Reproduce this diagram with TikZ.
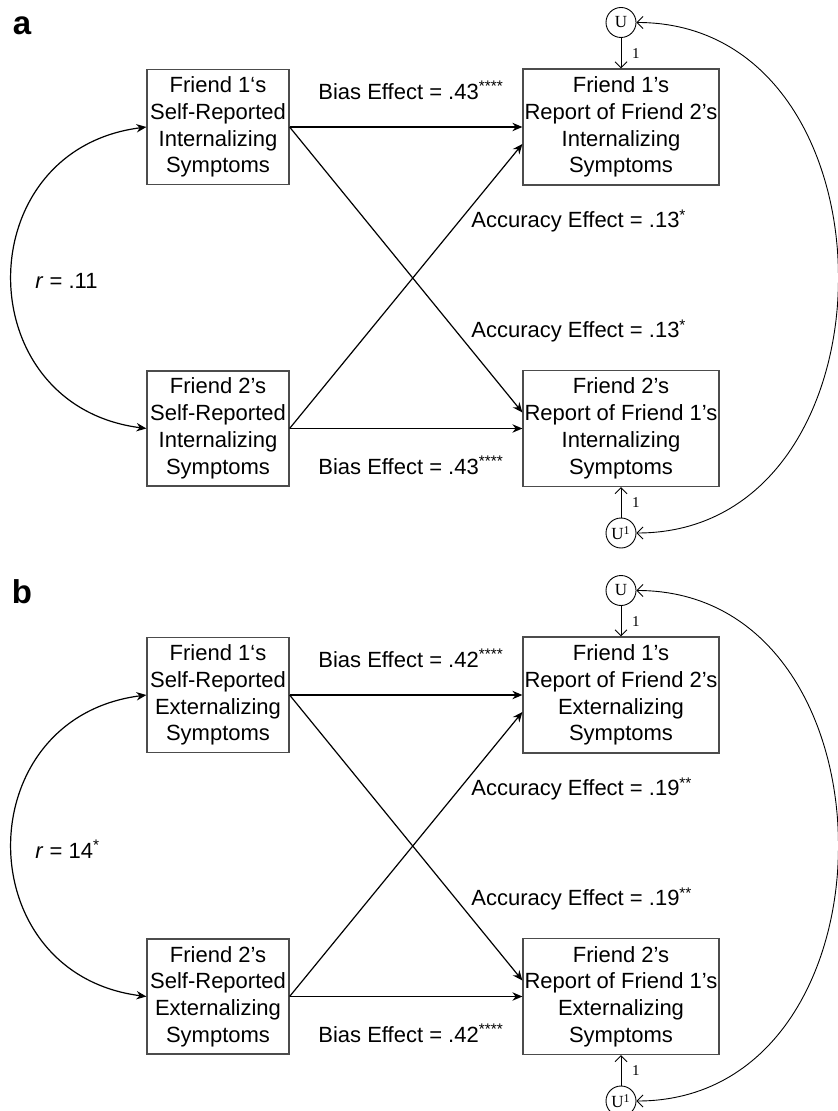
\documentclass[tikz,border=0pt]{standalone}
\usepackage{fontspec}
\setmainfont{Liberation Sans}
\newfontfamily\timesfont{Liberation Serif}
\usetikzlibrary{positioning, arrows.meta}

\tikzset{
  var/.style={draw=black!70, line width=0.6pt, inner sep=0.5pt, align=center,
    font=\fontsize{11}{13.4}\selectfont},
  selfvar/.style={var, minimum width=71pt, minimum height=57.5pt},
  reportvar/.style={var, minimum width=98pt, minimum height=58pt},
  err/.style={circle, draw, line width=0.45pt, inner sep=0pt, minimum size=15pt,
    font=\timesfont\fontsize{8.5}{9}\selectfont},
  coef/.style={anchor=west, inner sep=0pt, font=\fontsize{11}{13.4}\selectfont},
  effect/.style={-{Stealth[length=5pt,width=4.2pt,inset=1.6pt]}, line width=0.6pt},
  loading/.style={-{Straight Barb[length=3pt,width=6pt]}, line width=0.45pt},
  fixlab/.style={right=2pt, font=\timesfont\fontsize{7.5}{8}\selectfont},
  panel/.style={font=\bfseries\fontsize{16.5}{17}\selectfont}
}

\begin{document}
\begin{tikzpicture}[x=0.5pt,y=-0.5pt,on grid]
\useasboundingbox (0,0) rectangle (838,1111);

% panel a
\node[panel] (alab) at (22,26) {a};
\node[selfvar] (a1) at (218,127) {Friend 1‘s\\Self-Reported\\Internalizing\\Symptoms};
\node[reportvar] (a3) [right=201.5pt of a1] {Friend 1’s\\Report of Friend 2’s\\Internalizing\\Symptoms};
\node[selfvar] (a2) [below=150.75pt of a1] {Friend 2’s\\Self-Reported\\Internalizing\\Symptoms};
\node[reportvar] (a4) [right=201.5pt of a2] {Friend 2’s\\Report of Friend 1’s\\Internalizing\\Symptoms};
\node[err] (au) [above=52.25pt of a3] {U};
\node[err] (aul) [below=52.25pt of a4] {U\textsuperscript{1}};

\draw[effect] (a1.east) -- (a3.west);
\draw[effect] (a1.east) -- ([yshift=8pt]a4.west);
\draw[effect] (a2.east) -- ([yshift=-8.5pt]a3.west);
\draw[effect] (a2.east) -- (a4.west);
\draw[effect,{Stealth[length=5pt,width=4.2pt,inset=1.6pt]}-{Stealth[length=5pt,width=4.2pt,inset=1.6pt]}]
  (a1.west) .. controls +(-179,23) and +(-179,-23) .. (a2.west);
\draw[loading] (au) -- node[fixlab] {1} (a3);
\draw[loading] (aul) -- node[fixlab] {1} (a4);
\draw[loading,{Straight Barb[length=3pt,width=6pt]}-{Straight Barb[length=3pt,width=6pt]}]
  (au.east) .. controls +(269,0) and +(269,0) .. (aul.east);

\node[coef] (abias1) at (318,90) {Bias Effect = .43\textsuperscript{****}};
\node[coef] (abias2) at (318,465) {Bias Effect = .43\textsuperscript{****}};
\node[coef] (aacc1) at (471,221) {Accuracy Effect = .13\textsuperscript{*}};
\node[coef] (aacc2) at (471,331) {Accuracy Effect = .13\textsuperscript{*}};
\node[coef] (ar) at (35,281) {\textit{r} = .11};

% panel b
\node[panel] (blab) at (22,592) {b};
\node[selfvar] (b1) at (218,695) {Friend 1‘s\\Self-Reported\\Externalizing\\Symptoms};
\node[reportvar] (b3) [right=201.5pt of b1] {Friend 1’s\\Report of Friend 2’s\\Externalizing\\Symptoms};
\node[selfvar] (b2) [below=150.75pt of b1] {Friend 2’s\\Self-Reported\\Externalizing\\Symptoms};
\node[reportvar] (b4) [right=201.5pt of b2] {Friend 2’s\\Report of Friend 1’s\\Externalizing\\Symptoms};
\node[err] (bu) [above=52.25pt of b3] {U};
\node[err] (bul) [below=52.25pt of b4] {U\textsuperscript{1}};

\draw[effect] (b1.east) -- (b3.west);
\draw[effect] (b1.east) -- ([yshift=8pt]b4.west);
\draw[effect] (b2.east) -- ([yshift=-8.5pt]b3.west);
\draw[effect] (b2.east) -- (b4.west);
\draw[effect,{Stealth[length=5pt,width=4.2pt,inset=1.6pt]}-{Stealth[length=5pt,width=4.2pt,inset=1.6pt]}]
  (b1.west) .. controls +(-179,23) and +(-179,-23) .. (b2.west);
\draw[loading] (bu) -- node[fixlab] {1} (b3);
\draw[loading] (bul) -- node[fixlab] {1} (b4);
\draw[loading,{Straight Barb[length=3pt,width=6pt]}-{Straight Barb[length=3pt,width=6pt]}]
  (bu.east) .. controls +(269,0) and +(269,0) .. (bul.east);

\node[coef] (bbias1) at (318,658) {Bias Effect = .42\textsuperscript{****}};
\node[coef] (bbias2) at (318,1033) {Bias Effect = .42\textsuperscript{****}};
\node[coef] (bacc1) at (471,789) {Accuracy Effect = .19\textsuperscript{**}};
\node[coef] (bacc2) at (471,899) {Accuracy Effect = .19\textsuperscript{**}};
\node[coef] (br) at (35,849) {\textit{r} = 14\textsuperscript{*}};
\end{tikzpicture}
\end{document}
